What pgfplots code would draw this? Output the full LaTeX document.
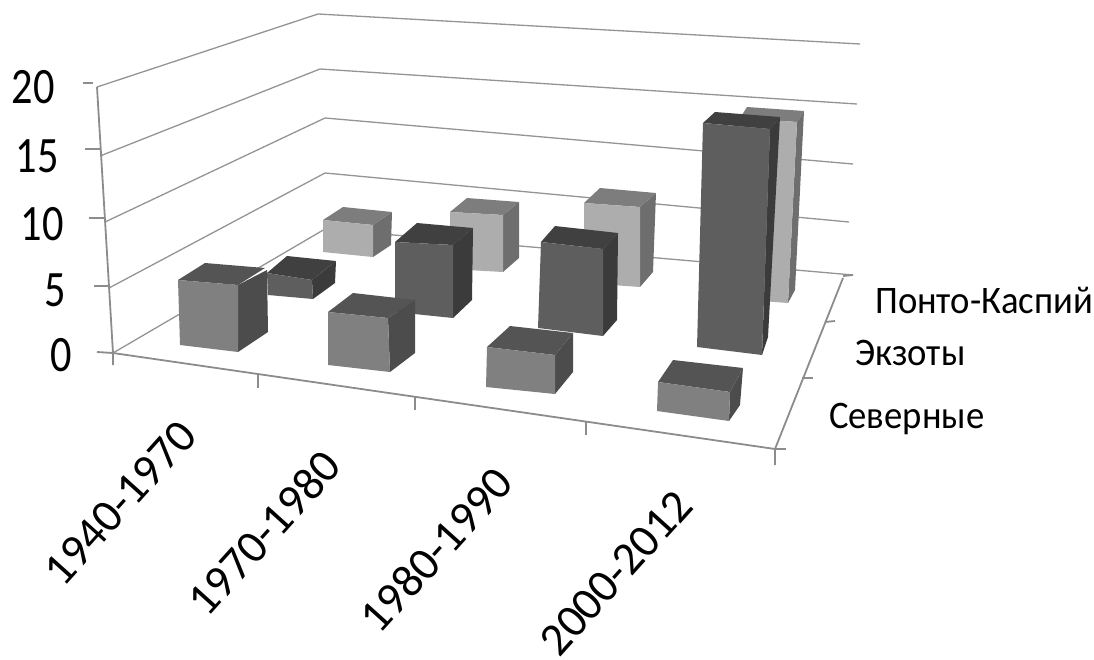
\documentclass[border=0pt]{standalone}
\usepackage{pgfplots}
\usepackage{fontspec}
\setmainfont{Carlito}
\pgfplotsset{compat=1.18}
% Faces of the columns: md/dk/lt are the three series, front, top and side shades
\definecolor{mdF}{gray}{0.50}\definecolor{mdT}{gray}{0.33}\definecolor{mdS}{gray}{0.30}
\definecolor{dkF}{gray}{0.37}\definecolor{dkT}{gray}{0.25}\definecolor{dkS}{gray}{0.23}
\definecolor{ltF}{gray}{0.68}\definecolor{ltT}{gray}{0.49}\definecolor{ltS}{gray}{0.43}
\definecolor{gridc}{gray}{0.58}
\definecolor{axisc}{gray}{0.55}
\pgfplotsset{
  face/.style={draw=none,fill=#1,forget plot},
  wall/.style={color=gridc,line width=1.3pt,forget plot},
  edge/.style={color=axisc,line width=1.8pt,forget plot},
}
% One column in projected coordinates: side, top, front faces
\newcommand{\column}[4]{%
  \addplot[face=#1S] coordinates {#2} --cycle;
  \addplot[face=#1T] coordinates {#3} --cycle;
  \addplot[face=#1F] coordinates {#4} --cycle;
}
\newcommand{\valuelabel}[3]{\node[anchor=base east,font=\fontsize{51}{51}\selectfont,xscale=.83,inner sep=0pt] at (axis cs:#2,#3) {#1};}
\newcommand{\catlabel}[3]{\node[anchor=center,rotate=48,font=\fontsize{46.5}{47}\selectfont,inner sep=0pt] at (axis cs:#2,#3) {#1};}
\newcommand{\serieslabel}[3]{\node[anchor=base west,font=\fontsize{39}{39}\selectfont,xscale=.94,inner sep=0pt] at (axis cs:#2,#3) {#1};}
\begin{document}
\begin{tikzpicture}
\begin{axis}[
  at={(0,0)},anchor=south west,
  x=1pt,y=1pt,
  xmin=0,xmax=1094,ymin=0,ymax=659,y dir=reverse,
  hide axis,clip=false,
]
% Horizontal levels on the side wall and back wall
\addplot[wall] coordinates {(97,87)(318,14)(860,44)};
\addplot[wall] coordinates {(100,156)(320,69)(857,104)};
\addplot[wall] coordinates {(105,222)(325,118)(853,164)};
\addplot[wall] coordinates {(109,288)(325,173)(849,222)};
\addplot[wall] coordinates {(113,353)(325,229)(853,275)};
% Value axis and its ticks
\addplot[edge] coordinates {(97,87)(113,353)(113,365)};
\addplot[edge] coordinates {(83,83)(93,83)};
\addplot[edge] coordinates {(85,149)(100,149)};
\addplot[edge] coordinates {(89,218)(104,218)};
\addplot[edge] coordinates {(94,286)(109,286)};
\addplot[edge] coordinates {(97,352)(113,353)};
% Floor edges and their ticks
\addplot[edge] coordinates {(113,353)(775,449)(775,465)};
\addplot[edge] coordinates {(258,374)(258,388)};
\addplot[edge] coordinates {(415,397)(415,410)};
\addplot[edge] coordinates {(586,422)(586,435)};
\addplot[edge] coordinates {(775,449)(843,278)};
\addplot[edge] coordinates {(775,449)(786,449)};
\addplot[edge] coordinates {(802,378)(813,378)};
\addplot[edge] coordinates {(825,322)(835,321)};
\addplot[edge] coordinates {(843,276)(853,275)};

% Понто-Каспий
\column{lt}{(373,225)(392,212)(391,245)(373,257)}{(323,220)(343,207)(392,212)(373,225)}{(323,220)(373,225)(373,257)(323,252)}
\column{lt}{(503,215)(519,202)(519,258)(503,272)}{(450,212)(467,198)(519,202)(503,215)}{(450,212)(503,215)(503,272)(450,269)}
\column{lt}{(640,207)(656,193)(653,272)(640,287)}{(584,203)(600,188)(656,193)(640,207)}{(584,203)(640,207)(640,287)(584,283)}
\column{lt}{(797,122)(804,111)(795,290)(788,303)}{(740,118)(747,107)(804,111)(797,122)}{(740,118)(797,122)(788,303)(735,299)}
% Экзоты
\column{dk}{(312,280)(336,261)(335,283)(313,299)}{(267,273)(287,256)(336,261)(312,280)}{(267,273)(312,280)(313,299)(268,295)}
\column{dk}{(453,245)(473,228)(472,300)(453,318)}{(395,242)(417,223)(473,228)(453,245)}{(395,242)(453,245)(453,318)(395,312)}
\column{dk}{(603,249)(618,233)(617,320)(603,336)}{(541,242)(555,226)(618,233)(603,249)}{(541,242)(603,249)(603,336)(538,328)}
\column{dk}{(770,129)(780,117)(768,337)(762,355)}{(703,123)(715,112)(780,117)(770,129)}{(703,123)(770,129)(762,355)(697,347)}
% Северные
\column{md}{(238,285)(267,270)(268,332)(238,352)}{(178,280)(205,263)(265,268)(238,285)}{(178,280)(238,285)(238,352)(180,345)}
\column{md}{(388,318)(415,300)(415,353)(390,372)}{(328,312)(353,293)(415,300)(388,318)}{(328,312)(388,318)(390,372)(328,365)}
\column{md}{(555,355)(573,333)(573,372)(555,394)}{(487,347)(510,326)(573,333)(555,355)}{(487,347)(555,355)(555,394)(486,387)}
\column{md}{(730,392)(743,368)(740,405)(729,421)}{(658,382)(673,360)(743,368)(730,392)}{(658,382)(730,392)(729,421)(657,411)}

% Value labels
\valuelabel{20}{55}{103}
\valuelabel{15}{59}{172}
\valuelabel{10}{64}{240}
\valuelabel{5}{66}{306}
\valuelabel{0}{72}{371}
% Category labels
\catlabel{1940-1970}{120}{503}
\catlabel{1970-1980}{264}{533}
\catlabel{1980-1990}{436}{550}
\catlabel{2000-2012}{616}{573}
% Series labels
\serieslabel{Понто-Каспий}{875}{313}
\serieslabel{Экзоты}{855}{365}
\serieslabel{Северные}{829}{428}
\end{axis}
\pgfresetboundingbox
\path (0,0) rectangle (1094pt,659pt);
\end{tikzpicture}
\end{document}
